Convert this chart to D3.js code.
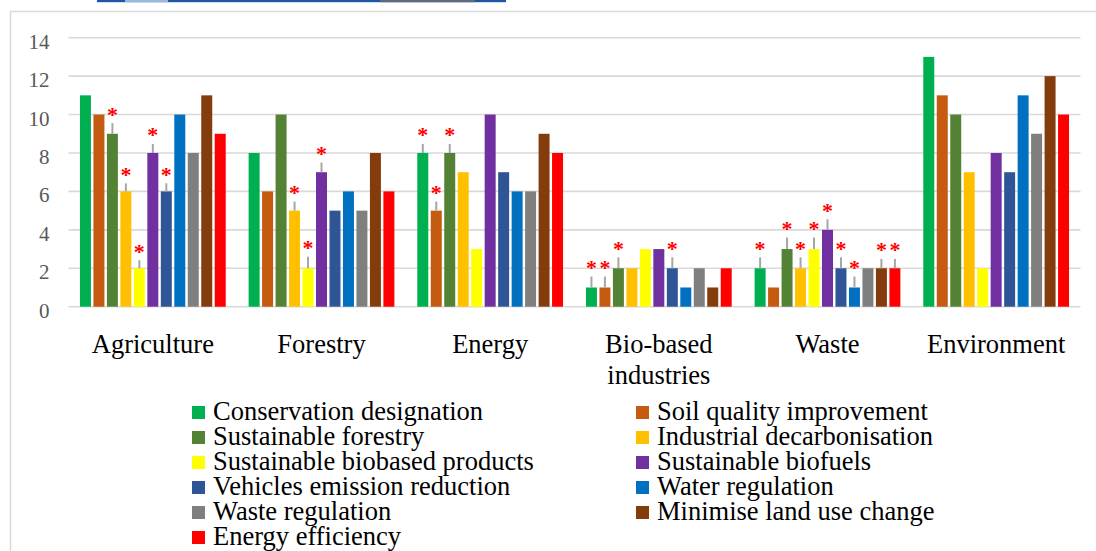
<!DOCTYPE html>
<html>
<head>
<meta charset="utf-8">
<script src="https://cdn.jsdelivr.net/npm/d3@7"></script>
<style>
  html, body { margin: 0; padding: 0; background: #fff; }
  svg { display: block; }
</style>
</head>
<body>
<svg id="chart" width="1096" height="551"></svg>
<script>
// ---------- DATA ----------
const categories = ["Agriculture", "Forestry", "Energy", "Bio-based industries", "Waste", "Environment"];
const categoryLines = [["Agriculture"], ["Forestry"], ["Energy"], ["Bio-based", "industries"], ["Waste"], ["Environment"]];
const seriesNames = [
  "Conservation designation", "Soil quality improvement", "Sustainable forestry",
  "Industrial decarbonisation", "Sustainable biobased products", "Sustainable biofuels",
  "Vehicles emission reduction", "Water regulation", "Waste regulation",
  "Minimise land use change", "Energy efficiency"
];
const seriesColors = ["#00B050", "#C55A11", "#548235", "#FFC000", "#FFFF00", "#7030A0",
                      "#2F5597", "#0070C0", "#7F7F7F", "#843C0C", "#FF0000"];

const conservation      = [11, 8, 8, 1, 2, 13];
const soilQuality       = [10, 6, 5, 1, 1, 11];
const sustForestry      = [9, 10, 8, 2, 3, 10];
const industrialDecarb  = [6, 5, 7, 2, 2, 7];
const biobasedProducts  = [2, 2, 3, 3, 3, 2];
const biofuels          = [8, 7, 10, 3, 4, 8];
const vehicles          = [6, 5, 7, 2, 2, 7];
const waterReg          = [10, 6, 6, 1, 1, 11];
const wasteReg          = [8, 5, 6, 2, 2, 9];
const landUse           = [11, 8, 9, 1, 2, 12];
const energyEff         = [9, 6, 8, 2, 2, 10];

// upper error bar lengths (0 = none); bars with an error bar carry a significance asterisk
const errConservation     = [0, 0, 0.47, 0.57, 0.57, 0];
const errSoilQuality      = [0, 0, 0.47, 0.57, 0, 0];
const errSustForestry     = [0.55, 0, 0.47, 0.57, 0.6, 0];
const errIndustrialDecarb = [0.42, 0.47, 0, 0, 0.57, 0];
const errBiobased         = [0.42, 0.6, 0, 0, 0.6, 0];
const errBiofuels         = [0.47, 0.5, 0, 0, 0.55, 0];
const errVehicles         = [0.42, 0, 0, 0.57, 0.57, 0];
const errWaterReg         = [0, 0, 0, 0, 0.57, 0];
const errWasteReg         = [0, 0, 0, 0, 0, 0];
const errLandUse          = [0, 0, 0, 0, 0.49, 0];
const errEnergyEff        = [0, 0, 0, 0, 0.49, 0];

const yTicks = [0, 2, 4, 6, 8, 10, 12, 14];

const seriesValues = [conservation, soilQuality, sustForestry, industrialDecarb, biobasedProducts,
  biofuels, vehicles, waterReg, wasteReg, landUse, energyEff];
const seriesErrors = [errConservation, errSoilQuality, errSustForestry, errIndustrialDecarb, errBiobased,
  errBiofuels, errVehicles, errWaterReg, errWasteReg, errLandUse, errEnergyEff];

// ---------- CHART ----------
const FONT = "'Liberation Serif', 'Times New Roman', Times, serif";
const svg = d3.select("#chart");
const W = 1096, H = 551;
const plot = { left: 68.5, right: 1080.5, top: 37.7, bottom: 306.7 };

// stray strip of a neighbouring figure at the very top
svg.append("rect").attr("x", 97).attr("y", 0).attr("width", 409).attr("height", 2.2).attr("fill", "#1f56a3");
svg.append("rect").attr("x", 125).attr("y", 0).attr("width", 43).attr("height", 2.2).attr("fill", "#9bb9dd");
svg.append("rect").attr("x", 380).attr("y", 0).attr("width", 95).attr("height", 2.2).attr("fill", "#5b6a7e");

// chart frame
svg.append("path")
  .attr("d", `M10.5,${H} L10.5,11.5 L${W},11.5`)
  .attr("fill", "none").attr("stroke", "#d9d9d9").attr("stroke-width", 1.5);

const x0 = d3.scaleBand().domain(categories).range([plot.left, plot.right]).padding(0);
const x1 = d3.scaleBand().domain(seriesNames).range([0, x0.bandwidth()])
  .paddingInner(0.185).paddingOuter(0.85);
const y = d3.scaleLinear().domain([0, 14]).range([plot.bottom, plot.top]);

// gridlines
svg.append("g").selectAll("line").data(yTicks).join("line")
  .attr("x1", plot.left).attr("x2", plot.right)
  .attr("y1", d => y(d)).attr("y2", d => y(d))
  .attr("stroke", "#d9d9d9").attr("stroke-width", 1.6);

// y axis labels
const yAxis = d3.axisLeft(y).tickValues(yTicks).tickSize(0).tickPadding(0);
const yg = svg.append("g").attr("transform", "translate(49.5,0)").call(yAxis)
  .attr("font-family", FONT);
yg.select(".domain").remove();
yg.selectAll("text")
  .attr("fill", "#595959").attr("font-size", 21)
  .style("font-family", FONT)
  .attr("dy", "0.5em").attr("x", 0);

// bars
const groups = svg.append("g").selectAll("g").data(categories).join("g")
  .attr("transform", c => `translate(${x0(c)},0)`);

groups.each(function(c, ci) {
  const g = d3.select(this);
  const rows = seriesNames.map((s, si) => ({ s, si, v: seriesValues[si][ci], e: seriesErrors[si][ci] }));
  g.selectAll("rect.bar").data(rows).join("rect").attr("class", "bar")
    .attr("x", d => x1(d.s)).attr("width", x1.bandwidth())
    .attr("y", d => y(d.v)).attr("height", d => y(0) - y(d.v))
    .attr("fill", d => seriesColors[d.si]);
  const withErr = rows.filter(d => d.e > 0);
  g.selectAll("line.err").data(withErr).join("line").attr("class", "err")
    .attr("x1", d => x1(d.s) + x1.bandwidth() / 2).attr("x2", d => x1(d.s) + x1.bandwidth() / 2)
    .attr("y1", d => y(d.v)).attr("y2", d => y(d.v + d.e))
    .attr("stroke", "#a6a6a6").attr("stroke-width", 2);
  g.selectAll("text.sig").data(withErr).join("text").attr("class", "sig")
    .attr("x", d => x1(d.s) + x1.bandwidth() / 2)
    .attr("y", d => y(d.v + d.e) - 1.5)
    .attr("text-anchor", "middle")
    .style("font-family", FONT)
    .attr("font-size", 22).attr("font-weight", "bold")
    .attr("fill", "#FF0000")
    .text("*");
});

// category labels
const catG = svg.append("g").selectAll("text").data(categories).join("text")
  .attr("x", c => x0(c) + x0.bandwidth() / 2)
  .attr("y", 353)
  .attr("text-anchor", "middle")
  .style("font-family", FONT)
  .attr("font-size", 26.5).attr("fill", "#000");
catG.each(function(c, i) {
  d3.select(this).selectAll("tspan").data(categoryLines[i]).join("tspan")
    .attr("x", x0(c) + x0.bandwidth() / 2)
    .attr("dy", (d, j) => j === 0 ? 0 : 31)
    .text(d => d);
});

// legend
const legCols = [192, 636];
const legend = svg.append("g").selectAll("g").data(seriesNames).join("g")
  .attr("transform", (d, i) => `translate(${legCols[i % 2]},${420 + Math.floor(i / 2) * 25})`);
legend.append("rect")
  .attr("x", 0).attr("y", -14).attr("width", 13).attr("height", 13)
  .attr("fill", (d, i) => seriesColors[i]);
legend.append("text")
  .attr("x", 21).attr("y", 0)
  .style("font-family", FONT)
  .attr("font-size", 26.5).attr("fill", "#000")
  .text(d => d);
</script>
</body>
</html>
